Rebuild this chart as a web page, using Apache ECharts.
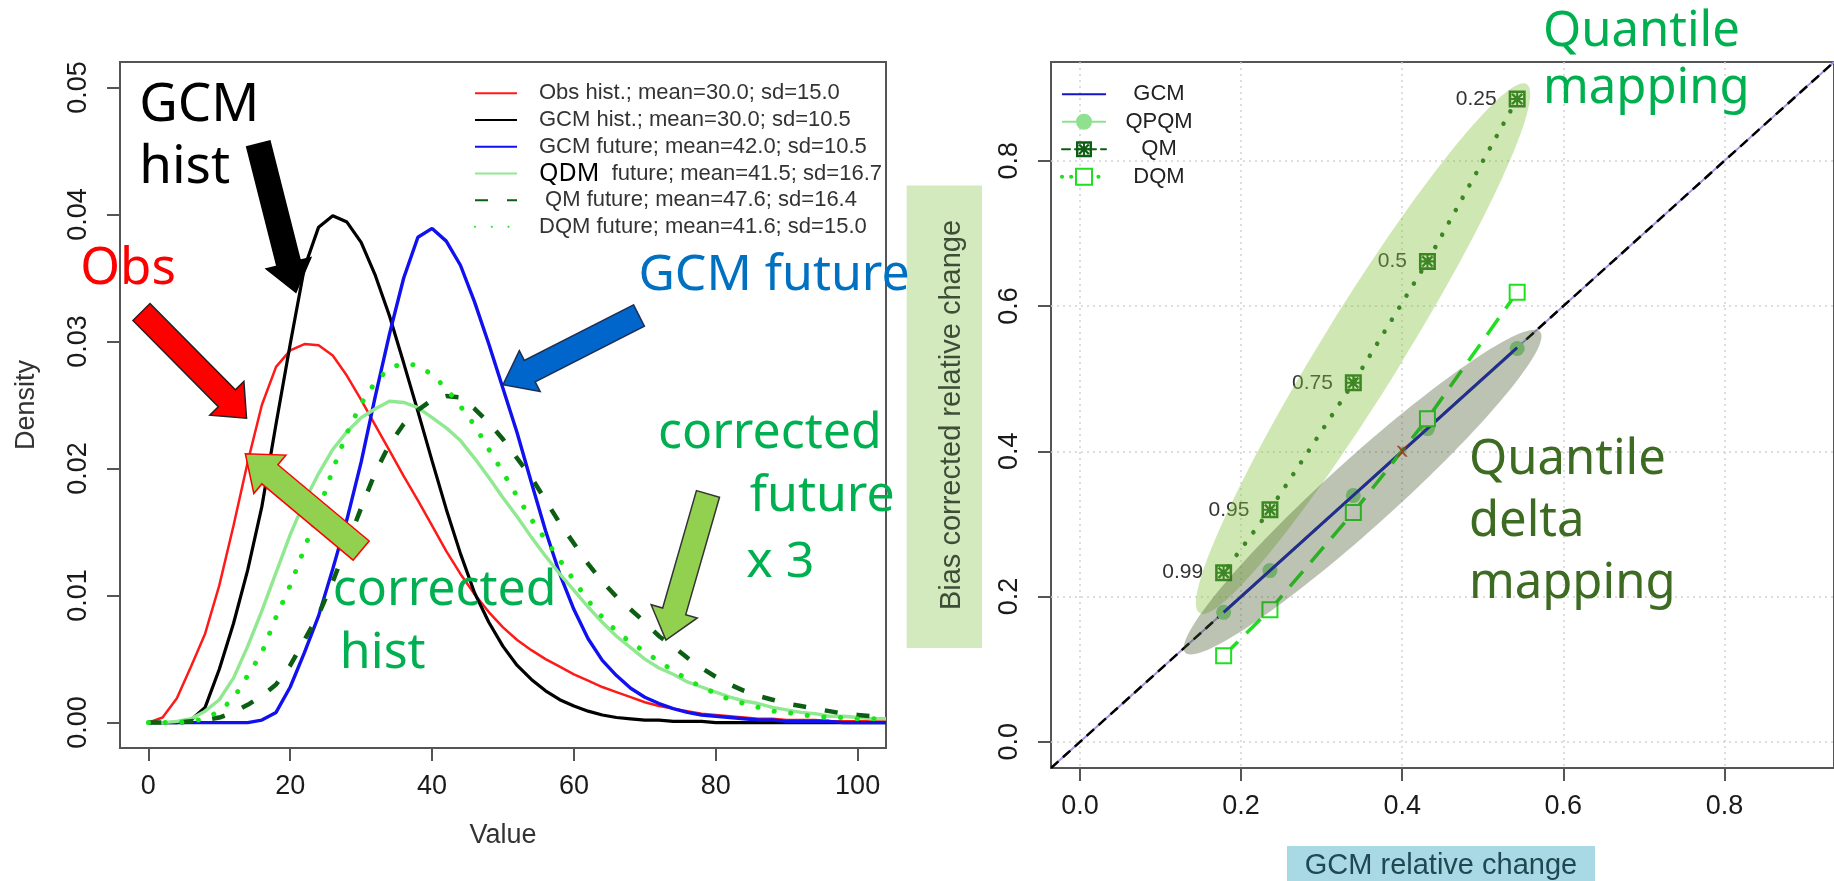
<!DOCTYPE html>
<html>
<head>
<meta charset="utf-8">
<script src="https://cdn.jsdelivr.net/npm/echarts@6/dist/echarts.min.js"></script>
<style>
  html, body { margin: 0; padding: 0; background: #ffffff; }
  #chart { width: 1834px; height: 881px; }
</style>
</head>
<body>
<div id="chart"></div>
<script>
// ---------- Left panel: densities of the variable ----------
const densityX = [0, 2, 4, 6, 8, 10, 12, 14, 16, 18, 20, 22, 24, 26, 28, 30, 32, 34, 36, 38, 40,
  42, 44, 46, 48, 50, 52, 54, 56, 58, 60, 62, 64, 66, 68, 70, 72, 74, 76, 78, 80,
  82, 84, 86, 88, 90, 92, 94, 96, 98, 100, 102, 104];

const obsHist = [0, 0.0004, 0.0019, 0.0044, 0.0070, 0.0108, 0.0155, 0.0205, 0.0250, 0.0280, 0.0293,
  0.0298, 0.0297, 0.0289, 0.0273, 0.0254, 0.0234, 0.0214, 0.0194, 0.0175, 0.0155,
  0.0135, 0.0117, 0.0101, 0.0087, 0.0075, 0.0065, 0.0057, 0.0050, 0.0044, 0.0038,
  0.0033, 0.0028, 0.0024, 0.0020, 0.0016, 0.0013, 0.0011, 0.0009, 0.0007, 0.0006,
  0.0005, 0.0004, 0.0003, 0.0003, 0.0002, 0.0002, 0.0002, 0.0001, 0.0001, 0.0001, 0.0001, 0.0001];

const gcmHist = [0, 0, 0, 0.0002, 0.0012, 0.0042, 0.0078, 0.0120, 0.0170, 0.0235, 0.0298,
  0.0358, 0.0390, 0.0399, 0.0394, 0.0378, 0.0352, 0.0320, 0.0283, 0.0245, 0.0206,
  0.0168, 0.0133, 0.0102, 0.0079, 0.0060, 0.0045, 0.0034, 0.0025, 0.0018, 0.0013,
  0.0009, 0.0006, 0.0004, 0.0003, 0.0002, 0.0002, 0.0001, 0.0001, 0.0001, 0,
  0, 0, 0, 0, 0, 0, 0, 0, 0, 0, 0, 0];

const gcmFuture = [0, 0, 0, 0, 0, 0, 0, 0, 0.0002, 0.0008, 0.0028,
  0.0055, 0.0084, 0.0121, 0.0160, 0.0205, 0.0257, 0.0306, 0.0350, 0.0382, 0.0389,
  0.0379, 0.0360, 0.0331, 0.0298, 0.0263, 0.0228, 0.0189, 0.0151, 0.0117, 0.0089,
  0.0066, 0.0049, 0.0037, 0.0027, 0.0020, 0.0015, 0.0011, 0.0008, 0.0006, 0.0005,
  0.0004, 0.0003, 0.0002, 0.0002, 0.0001, 0.0001, 0.0001, 0.0001, 0, 0, 0, 0];

const qdmFuture = [0, 0, 0.0001, 0.0003, 0.0009, 0.0018, 0.0035, 0.0060, 0.0088, 0.0118, 0.0148,
  0.0174, 0.0196, 0.0215, 0.0229, 0.0240, 0.0247, 0.0253, 0.0252, 0.0248, 0.0240,
  0.0232, 0.0222, 0.0208, 0.0193, 0.0177, 0.0162, 0.0146, 0.0131, 0.0117, 0.0104,
  0.0091, 0.0079, 0.0068, 0.0059, 0.0050, 0.0043, 0.0038, 0.0032, 0.0028, 0.0024,
  0.0020, 0.0017, 0.0015, 0.0012, 0.0010, 0.0008, 0.0007, 0.0005, 0.0005, 0.0004, 0.0003, 0.0003];

const qmFuture = [0, 0, 0, 0.0001, 0.0002, 0.0004, 0.0008, 0.0014, 0.0021, 0.0030, 0.0045,
  0.0065, 0.0085, 0.0111, 0.0140, 0.0169, 0.0197, 0.0219, 0.0235, 0.0246, 0.0254,
  0.0257, 0.0256, 0.0247, 0.0236, 0.0223, 0.0208, 0.0193, 0.0175, 0.0157, 0.0141,
  0.0125, 0.0111, 0.0099, 0.0089, 0.0079, 0.0068, 0.0060, 0.0051, 0.0043, 0.0036,
  0.0030, 0.0025, 0.0021, 0.0018, 0.0015, 0.0013, 0.0011, 0.0009, 0.0007, 0.0006, 0.0005, 0.0004];

const dqmFuture = [0, 0, 0, 0.0001, 0.0003, 0.0009, 0.0019, 0.0037, 0.0055, 0.0083, 0.0108,
  0.0137, 0.0167, 0.0199, 0.0228, 0.0251, 0.0268, 0.0279, 0.0283, 0.0281, 0.0274,
  0.0263, 0.0249, 0.0234, 0.0215, 0.0197, 0.0178, 0.0160, 0.0144, 0.0128, 0.0112,
  0.0096, 0.0083, 0.0072, 0.0063, 0.0056, 0.0048, 0.0041, 0.0034, 0.0028, 0.0023,
  0.0018, 0.0015, 0.0012, 0.0009, 0.0008, 0.0006, 0.0005, 0.0004, 0.0004, 0.0003, 0.0003, 0.0003];

const densityNames = [
  'Obs hist.; mean=30.0; sd=15.0',
  'GCM hist.; mean=30.0; sd=10.5',
  'GCM future; mean=42.0; sd=10.5',
  'QDM  future; mean=41.5; sd=16.7',
  ' QM future; mean=47.6; sd=16.4',
  'DQM future; mean=41.6; sd=15.0'
];

const valueTicks = [0, 20, 40, 60, 80, 100];
const densityTicks = [0, 0.01, 0.02, 0.03, 0.04, 0.05];

// ---------- Right panel: relative change by quantile ----------
const quantileLabels = ['0.25', '0.5', '0.75', '0.95', '0.99'];
const gcmChange  = [0.5427, 0.4313, 0.3393, 0.2358, 0.1783];
const qpqmChange = [0.5416, 0.4313, 0.3393, 0.2358, 0.1783];
const qmChange   = [0.8851, 0.6615, 0.4944, 0.3195, 0.2329];
const dqmChange  = [0.6190, 0.4449, 0.3157, 0.1818, 0.1184];
const crossPoint = [[0.4, 0.4]];
const changeTicks = [0, 0.2, 0.4, 0.6, 0.8];

// axis extents (R style: data range padded by 4%)
const VALUE_MIN = -4, VALUE_MAX = 104;
const DENS_MIN = -0.002, DENS_MAX = 0.052;
const CHG_MIN = -0.036, CHG_MAX = 0.936;

const AXIS_FONT = 'Liberation Sans, Arial, Helvetica, sans-serif';
const NOTE_FONT = 'Noto Sans, Liberation Sans, sans-serif';

const pairs = (xs, ys) => xs.map((x, i) => [x, ys[i]]);

const qmSymbol = 'path://M0 0H20V20H0Z M3 3V17H17V3Z M3 5L5 3L17 15L15 17Z M17 5L5 17L3 15L15 3Z M8.8 3H11.2V17H8.8Z M3 8.8H17V11.2H3Z';
const crossSymbol = 'path://M0 0L2 0L5 3L8 0L10 0L6 5L10 10L8 10L5 7L2 10L0 10L4 5Z';

function tickAxis(gridIndex, min, max, ticks, digits, vertical, extra) {
  return Object.assign({
    gridIndex: gridIndex,
    type: 'value',
    min: min,
    max: max,
    axisLine: { show: false, onZero: false },
    axisTick: { show: true, length: 13, lineStyle: { color: '#555', width: 2 }, customValues: ticks },
    axisLabel: {
      customValues: ticks,
      formatter: v => Number(v).toFixed(digits),
      rotate: vertical ? 90 : 0,
      margin: vertical ? 28 : 25,
      fontSize: 27, color: '#1a1a1a', fontFamily: AXIS_FONT
    },
    splitLine: { show: false }
  }, extra || {});
}

const dottedGrid = { show: true, lineStyle: { color: '#d2d2d2', width: 1.5, type: [2, 4] } };

const option = {
  animation: false,
  backgroundColor: '#ffffff',
  grid: [
    { left: 120, top: 62, width: 766, height: 686, show: true, borderColor: '#555', borderWidth: 2 },
    { left: 1051, top: 62, width: 788, height: 706, show: true, borderColor: '#555', borderWidth: 2 }
  ],
  xAxis: [
    tickAxis(0, VALUE_MIN, VALUE_MAX, valueTicks, 0, false, {
      name: 'Value', nameLocation: 'middle', nameGap: 74,
      nameTextStyle: { fontSize: 27, color: '#333', fontFamily: AXIS_FONT }
    }),
    tickAxis(1, CHG_MIN, CHG_MAX, changeTicks, 1, false, { splitLine: dottedGrid })
  ],
  yAxis: [
    tickAxis(0, DENS_MIN, DENS_MAX, densityTicks, 2, true, {
      name: 'Density', nameLocation: 'middle', nameGap: 80,
      nameTextStyle: { fontSize: 27, color: '#333', fontFamily: AXIS_FONT }
    }),
    tickAxis(1, CHG_MIN, CHG_MAX, changeTicks, 1, true, { splitLine: dottedGrid })
  ],
  legend: [
    {
      data: densityNames,
      orient: 'vertical', left: 469, top: 75,
      itemWidth: 42, itemHeight: 14, itemGap: 0,
      selectedMode: false,
      itemStyle: { opacity: 0 },
      formatter: name => name.indexOf('QDM') === 0 ? '{q|QDM}' + name.slice(3) : name,
      textStyle: {
        fontSize: 22, color: '#333', fontFamily: AXIS_FONT, lineHeight: 26.7,
        padding: [0, 0, 0, 17],
        rich: { q: { fontSize: 25, color: '#000', fontFamily: NOTE_FONT } }
      }
    },
    {
      data: [
        { name: 'GCM', itemStyle: { opacity: 0 } },
        { name: 'QPQM' },
        { name: 'QM', lineStyle: { type: [8, 5] } },
        { name: 'DQM', lineStyle: { type: [0.1, 9], cap: 'round', width: 4 } }
      ],
      orient: 'vertical', left: 1055, top: 75.5,
      itemWidth: 44, itemHeight: 20, itemGap: 0,
      selectedMode: false,
      formatter: name => '{c|' + name + '}',
      textStyle: {
        fontSize: 22, color: '#222', fontFamily: AXIS_FONT, lineHeight: 27.5,
        rich: { c: { width: 96, align: 'center', fontSize: 22, color: '#222', fontFamily: AXIS_FONT } }
      }
    }
  ],
  series: [
    // density curves
    { name: densityNames[0], type: 'line', xAxisIndex: 0, yAxisIndex: 0, symbol: 'none',
      data: pairs(densityX, obsHist), lineStyle: { color: '#ff1a1a', width: 2.5 }, itemStyle: { color: '#ff1a1a' } },
    { name: densityNames[1], type: 'line', xAxisIndex: 0, yAxisIndex: 0, symbol: 'none',
      data: pairs(densityX, gcmHist), lineStyle: { color: '#000000', width: 3.2 }, itemStyle: { color: '#000000' } },
    { name: densityNames[2], type: 'line', xAxisIndex: 0, yAxisIndex: 0, symbol: 'none',
      data: pairs(densityX, gcmFuture), lineStyle: { color: '#1010f0', width: 3.4 }, itemStyle: { color: '#1010f0' } },
    { name: densityNames[3], type: 'line', xAxisIndex: 0, yAxisIndex: 0, symbol: 'none',
      data: pairs(densityX, qdmFuture), lineStyle: { color: '#90e890', width: 3.4 }, itemStyle: { color: '#90e890' } },
    { name: densityNames[4], type: 'line', xAxisIndex: 0, yAxisIndex: 0, symbol: 'none',
      data: pairs(densityX, qmFuture), lineStyle: { color: '#0b5e12', width: 4.5, type: [13, 19] }, itemStyle: { color: '#0b5e12' } },
    { name: densityNames[5], type: 'line', xAxisIndex: 0, yAxisIndex: 0, symbol: 'none',
      data: pairs(densityX, dqmFuture), lineStyle: { color: '#19e619', width: 5, type: [0.1, 16.6], cap: 'round' }, itemStyle: { color: '#19e619' } },

    // 1:1 reference line
    { name: 'one-to-one', type: 'line', xAxisIndex: 1, yAxisIndex: 1, symbol: 'none', z: 1,
      data: [[CHG_MIN, CHG_MIN], [CHG_MAX, CHG_MAX]], lineStyle: { color: '#9d94e6', width: 2 } },
    { name: 'one-to-one dashed', type: 'line', xAxisIndex: 1, yAxisIndex: 1, symbol: 'none', z: 1,
      data: [[CHG_MIN, CHG_MIN], [CHG_MAX, CHG_MAX]], lineStyle: { color: '#000000', width: 2.5, type: [10, 6] } },

    // relative change by method
    { name: 'QPQM', type: 'line', xAxisIndex: 1, yAxisIndex: 1, z: 2,
      data: pairs(gcmChange, qpqmChange), symbol: 'circle', symbolSize: 15,
      lineStyle: { color: '#8fe08f', width: 3 }, itemStyle: { color: '#8fe08f' } },
    { name: 'GCM', type: 'line', xAxisIndex: 1, yAxisIndex: 1, symbol: 'none', z: 3,
      data: pairs(gcmChange, gcmChange), lineStyle: { color: '#1414c8', width: 3 }, itemStyle: { color: '#1414c8' } },
    { name: 'QM', type: 'line', xAxisIndex: 1, yAxisIndex: 1, z: 4,
      data: pairs(gcmChange, qmChange), symbol: qmSymbol, symbolSize: 17,
      lineStyle: { color: '#0b5e12', width: 4.5, type: [0.1, 14], cap: 'round' },
      itemStyle: { color: '#0b5e12' },
      label: {
        show: true, position: 'left', distance: 12,
        formatter: p => quantileLabels[p.dataIndex],
        fontSize: 21, color: '#333', fontFamily: AXIS_FONT
      } },
    { name: 'DQM', type: 'line', xAxisIndex: 1, yAxisIndex: 1, z: 4,
      data: pairs(gcmChange, dqmChange), symbol: 'emptyRect', symbolSize: 15,
      lineStyle: { color: '#1fe01f', width: 3.5, type: [20, 12] },
      itemStyle: { color: '#1fe01f', borderWidth: 3 } },
    { name: 'median', type: 'scatter', xAxisIndex: 1, yAxisIndex: 1, z: 5,
      data: crossPoint, symbol: crossSymbol, symbolSize: 11, itemStyle: { color: '#e01010' } }
  ]
};

const chart = echarts.init(document.getElementById('chart'));
chart.setOption(option);

// ---------- annotations, anchored in data coordinates ----------
const toLeft = p => chart.convertToPixel({ gridIndex: 0 }, p);
const toRight = p => chart.convertToPixel({ gridIndex: 1 }, p);

// text anchors are [x, y] at the left end of the baseline
const leftNotes = [
  { text: 'GCM', at: [-1.3, 0.0470], size: 53, color: '#000000' },
  { text: 'hist', at: [-1.3, 0.0421], size: 53, color: '#000000' },
  { text: 'Obs', at: [-9.6, 0.0342], size: 51, color: '#ff0000' },
  { text: 'GCM future', at: [69.1, 0.0337], size: 50, color: '#0070c0' },
  { text: 'corrected', at: [26.0, 0.0089], size: 50, color: '#00b050' },
  { text: 'hist', at: [27.0, 0.0040], size: 50, color: '#00b050' },
  { text: 'corrected', at: [71.85, 0.0213], size: 50, color: '#00b050' },
  { text: 'future', at: [84.8, 0.0163], size: 50, color: '#00b050' },
  { text: 'x 3', at: [84.3, 0.0111], size: 50, color: '#00b050' }
];

const leftArrows = [
  { from: [15.5, 0.04555], to: [20.8, 0.03387], fill: '#000000', stroke: '#000000', shaft: 24, head: 46, headLen: 30 },
  { from: [-0.97, 0.03232], to: [13.84, 0.02396], fill: '#ff0000', stroke: '#222222', shaft: 24, head: 48, headLen: 28 },
  { from: [30.0, 0.01354], to: [13.67, 0.02116], fill: '#92d050', stroke: '#ff0000', shaft: 25, head: 50, headLen: 32 },
  { from: [69.17, 0.03204], to: [50.0, 0.0266], fill: '#0066cc', stroke: '#1b2f55', shaft: 24, head: 46, headLen: 30 },
  { from: [78.9, 0.0180], to: [72.97, 0.00649], fill: '#92d050', stroke: '#333333', shaft: 24, head: 48, headLen: 30 }
];

const rightNotes = [
  { text: 'Quantile', at: [0.5747, 0.9521], size: 49, color: '#00b050' },
  { text: 'mapping', at: [0.5747, 0.8744], size: 49, color: '#00b050' },
  { text: 'Quantile', at: [0.4828, 0.3633], size: 49, color: '#3d6b21' },
  { text: 'delta', at: [0.4828, 0.2779], size: 49, color: '#3d6b21' },
  { text: 'mapping', at: [0.4828, 0.1925], size: 49, color: '#3d6b21' }
];

const rightEllipses = [
  { from: [0.1485, 0.1773], to: [0.5546, 0.9055], halfWidth: 40, fill: 'rgba(136,195,65,0.40)' },
  { from: [0.1305, 0.1230], to: [0.5711, 0.5647], halfWidth: 34, fill: 'rgba(70,88,45,0.36)' }
];

function noteText(n, conv) {
  const p = conv(n.at);
  return {
    type: 'text', x: p[0], y: p[1] - 0.37 * n.size, z: 40,
    style: { text: n.text, fontSize: n.size, fontFamily: NOTE_FONT, fill: n.color, align: 'left', verticalAlign: 'middle' }
  };
}

function arrowShape(a, conv) {
  const t = conv(a.from), h = conv(a.to);
  const dx = h[0] - t[0], dy = h[1] - t[1], len = Math.hypot(dx, dy);
  const ux = dx / len, uy = dy / len, nx = -uy, ny = ux;
  const bx = h[0] - ux * a.headLen, by = h[1] - uy * a.headLen;
  const s = a.shaft / 2, w = a.head / 2;
  return {
    type: 'polygon', z: 35,
    shape: { points: [
      [t[0] + nx * s, t[1] + ny * s], [bx + nx * s, by + ny * s], [bx + nx * w, by + ny * w],
      [h[0], h[1]],
      [bx - nx * w, by - ny * w], [bx - nx * s, by - ny * s], [t[0] - nx * s, t[1] - ny * s]
    ] },
    style: { fill: a.fill, stroke: a.stroke, lineWidth: 1.5, lineJoin: 'miter' }
  };
}

function ellipseShape(e, conv) {
  const a = conv(e.from), b = conv(e.to);
  return {
    type: 'ellipse', z: 20,
    x: (a[0] + b[0]) / 2, y: (a[1] + b[1]) / 2,
    rotation: -Math.atan2(b[1] - a[1], b[0] - a[0]),
    shape: { cx: 0, cy: 0, rx: Math.hypot(b[0] - a[0], b[1] - a[1]) / 2, ry: e.halfWidth },
    style: { fill: e.fill }
  };
}

// boxed axis titles of the right panel
const boxedTitles = [
  { type: 'rect', z: 5, shape: { x: 906.7, y: 185.6, width: 75.3, height: 462.4 }, style: { fill: '#d2eabd' } },
  { type: 'text', z: 6, x: 952, y: 415, rotation: Math.PI / 2,
    style: { text: 'Bias corrected relative change', fontSize: 29, fontFamily: AXIS_FONT, fill: '#3f4d38', align: 'center', verticalAlign: 'middle' } },
  { type: 'rect', z: 5, shape: { x: 1287, y: 846, width: 308, height: 35 }, style: { fill: '#a9d9e4' } },
  { type: 'text', z: 6, x: 1441, y: 866,
    style: { text: 'GCM relative change', fontSize: 29, fontFamily: AXIS_FONT, fill: '#1f4852', align: 'center', verticalAlign: 'middle' } }
];

const graphics = []
  .concat(boxedTitles)
  .concat(rightEllipses.map(e => ellipseShape(e, toRight)))
  .concat(leftArrows.map(a => arrowShape(a, toLeft)))
  .concat(leftNotes.map(n => noteText(n, toLeft)))
  .concat(rightNotes.map(n => noteText(n, toRight)));

chart.setOption({ graphic: { elements: graphics } });
</script>
</body>
</html>
